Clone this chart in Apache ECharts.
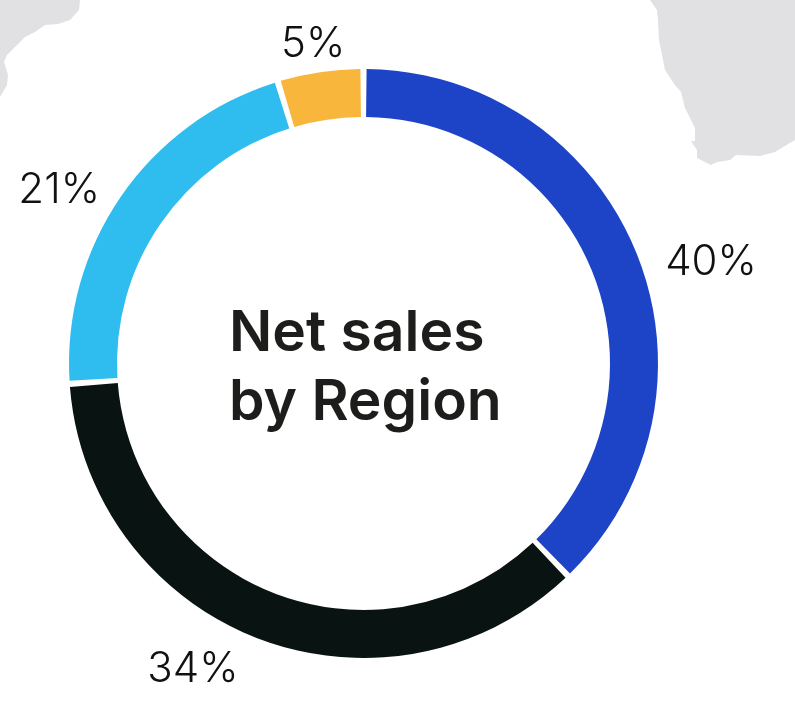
<!DOCTYPE html>
<html><head><meta charset="utf-8">
<script src="https://cdn.jsdelivr.net/npm/echarts@6/dist/echarts.min.js"></script>
<style>html,body{margin:0;padding:0;background:#fff}#c{width:795px;height:707px}</style>
</head><body><div id="c"></div>
<script>
const regions = ['Region A','Region B','Region C','Region D'];
const arcShares = [37.8,36.1,21.4,4.7];
const shareLabels = ['40%','34%','21%','5%'];
const colors = ['#1d44c6','#091311','#2fbdf0','#f8b63d'];
const labelShift = [[18,11],[-12,25],[-11,-3],[31,-22]];
const titleText = 'Net sales\nby Region';
const landLeft = [[0,0],[80,0],[79,10],[70,20],[58,24],[45,25],[35,32],[25,37],[15,47],[7,55],[4,62],[8,75],[7,85],[0,97]];
const landRight = [[650,0],[657,10],[658,20],[659,40],[665,70],[675,85],[681,92],[685,108],[695,128],[695,141],[691,141],[697,150],[697,158],[711,165],[717,162],[730,160],[736,155],[760,156],[775,152],[795,140],[795,0]];
const chart = echarts.init(document.getElementById('c'),null,{renderer:'canvas'});
chart.setOption({
  animation:false,
  backgroundColor:'#fff',
  graphic:[
    {type:'polygon',z:0,shape:{points:landLeft},style:{fill:'#e1e0e3'}},
    {type:'polygon',z:0,shape:{points:landRight},style:{fill:'#e1e0e3'}},
    {type:'text',z:10,left:229,top:299,style:{text:titleText,font:'600 57px Inter',lineHeight:69,fill:'#1d1d1b'}}
  ],
  series:[{
    type:'pie',
    center:[363.5,363.5],
    radius:[246.5,294.5],
    startAngle:90,
    clockwise:true,
    padAngle:1.2,
    data:regions.map((n,i)=>({name:n,value:arcShares[i],itemStyle:{color:colors[i]},label:{formatter:shareLabels[i]}})),
    label:{show:true,position:'outside',color:'#111',fontFamily:'Inter',fontWeight:300,fontSize:42},
    labelLine:{show:false,length:6,length2:0},
    labelLayout:p=>({dx:labelShift[p.dataIndex][0],dy:labelShift[p.dataIndex][1]}),
    emphasis:{disabled:true}
  }]
});
</script></body></html>
